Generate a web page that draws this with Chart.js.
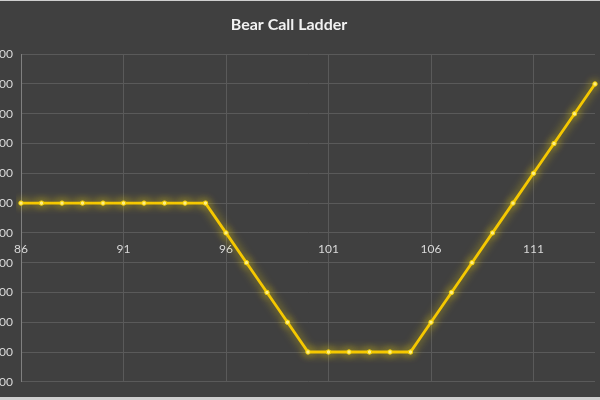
<!DOCTYPE html>
<html>
<head>
<meta charset="utf-8">
<script src="https://cdn.jsdelivr.net/npm/chart.js@4"></script>
<style>
  html, body { margin: 0; padding: 0; background: #cfcfcf; overflow: hidden; }
  #wrap { position: absolute; left: -19px; top: 1px; width: 619px; height: 396px; background: #404040; }
</style>
</head>
<body>
<div id="wrap"><canvas id="chart"></canvas></div>
<script>
// stock price at expiry
const prices = [86, 87, 88, 89, 90, 91, 92, 93, 94, 95, 96, 97, 98, 99, 100,
  101, 102, 103, 104, 105, 106, 107, 108, 109, 110, 111, 112, 113, 114];
// profit / loss per share
const payoff = [1, 1, 1, 1, 1, 1, 1, 1, 1, 1, 0, -1, -2, -3, -4,
  -4, -4, -4, -4, -4, -3, -2, -1, 0, 1, 2, 3, 4, 5];
const yMin = -5, yMax = 6, yStep = 1;
const labelEvery = 5;

// soft yellow glow under the line
const glow = {
  id: "glow",
  beforeDatasetDraw(chart) {
    const c = chart.ctx;
    c.save();
    c.shadowColor = "rgba(255, 225, 0, 0.75)";
    c.shadowBlur = 10;
  },
  afterDatasetDraw(chart) {
    chart.ctx.restore();
  }
};

new Chart(document.getElementById("chart"), {
  type: "line",
  data: {
    labels: prices.map(String),
    datasets: [{
      data: payoff,
      borderColor: "#f5c800",
      borderWidth: 2.8,
      pointRadius: 2.2,
      pointBackgroundColor: "#fff08a",
      pointBorderColor: "#f5d000",
      pointBorderWidth: 1,
      tension: 0
    }]
  },
  options: {
    responsive: true,
    maintainAspectRatio: false,
    animation: false,
    layout: { padding: { top: 0, right: 3, bottom: 6, left: 0 } },
    plugins: {
      legend: { display: false },
      tooltip: { enabled: false },
      title: {
        display: true,
        text: "Bear Call Ladder",
        color: "#f2f2f2",
        font: { family: "Lato, 'Open Sans', sans-serif", size: 16, weight: "bold" },
        padding: { top: 14, bottom: 20 }
      }
    },
    scales: {
      x: {
        position: { y: 0 },
        grid: { color: "#5a5a5a", drawTicks: false, lineWidth: 1 },
        border: { display: false },
        ticks: {
          color: "#d9d9d9",
          font: { family: "Lato, 'Open Sans', sans-serif", size: 12 },
          padding: 9,
          autoSkip: false,
          maxRotation: 0,
          callback: (v, i) => (i % labelEvery === 0 ? prices[i] : null)
        }
      },
      y: {
        min: yMin,
        max: yMax,
        afterFit: s => { s.width = 40; },
        grid: { color: "#5a5a5a", drawTicks: false },
        border: { display: true, color: "#808080", width: 1 },
        ticks: {
          stepSize: yStep,
          color: "#d9d9d9",
          font: { family: "Lato, 'Open Sans', sans-serif", size: 12 },
          padding: 8,
          callback: v => v.toFixed(2)
        }
      }
    }
  },
  plugins: [glow]
});
</script>
</body>
</html>
